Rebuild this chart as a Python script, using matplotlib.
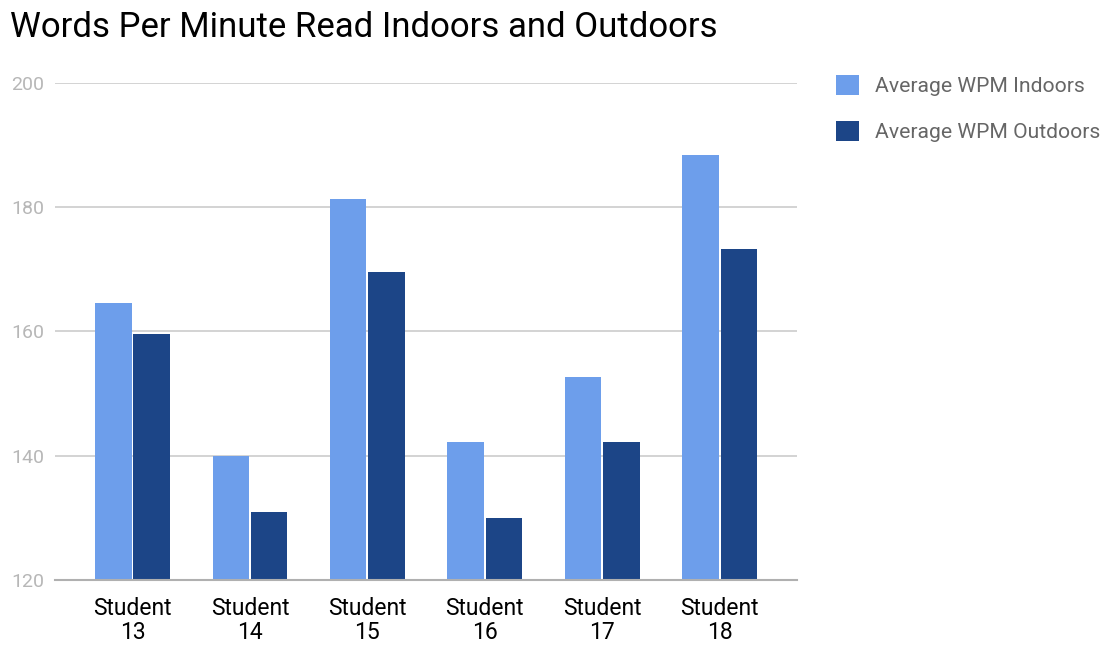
import matplotlib
matplotlib.use('Agg')
import matplotlib.pyplot as plt
import numpy as np

students = ["Student\n13", "Student\n14", "Student\n15", "Student\n16", "Student\n17", "Student\n18"]
indoors = [164.6, 140.0, 181.3, 142.2, 152.7, 188.4]
outdoors = [159.6, 130.9, 169.6, 130.0, 142.2, 173.3]
yticks = [120, 140, 160, 180, 200]

plt.rcParams['font.family'] = ['Roboto', 'DejaVu Sans']

fig = plt.figure(figsize=(11.06, 6.47), dpi=100, facecolor="white")
ax = fig.add_axes([0.0497, 0.1036, 0.671, 0.7681])

x = np.arange(len(students))
w = 0.31
ax.bar(x - w / 2 - 0.008, indoors, w, color="#6d9eeb", label="Average WPM Indoors", zorder=3)
ax.bar(x + w / 2 + 0.008, outdoors, w, color="#1c4587", label="Average WPM Outdoors", zorder=3)

ax.set_ylim(120, 200)
ax.set_xlim(-0.66, 5.66)
ax.set_yticks(yticks)
ax.set_yticklabels([str(t) for t in yticks], fontsize=14, color="#b7b7b7")
ax.set_xticks(x)
ax.set_xticklabels(students, fontsize=16.5, color="#000000", linespacing=1.1)
ax.tick_params(axis="both", length=0)
ax.tick_params(axis="y", pad=8)
ax.tick_params(axis="x", pad=12)

ax.grid(axis="y", color="#cccccc", linewidth=1.2, zorder=0)
for s in ["top", "right", "left"]:
    ax.spines[s].set_visible(False)
ax.spines["bottom"].set_color("#b0b0b0")
ax.spines["bottom"].set_linewidth(1.5)
ax.spines["bottom"].set_zorder(4)

fig.text(0.009, 0.958, "Words Per Minute Read Indoors and Outdoors", fontsize=25, color="#000000", va="center", ha="left")

leg = ax.legend(loc="upper left", bbox_to_anchor=(0.739, 0.913), bbox_transform=fig.transFigure,
                frameon=False, fontsize=15.2, labelcolor="#666666", handlelength=1.05, handleheight=1.05,
                handletextpad=0.8, labelspacing=1.18)

plt.savefig("out.png", dpi=100, facecolor="white")
